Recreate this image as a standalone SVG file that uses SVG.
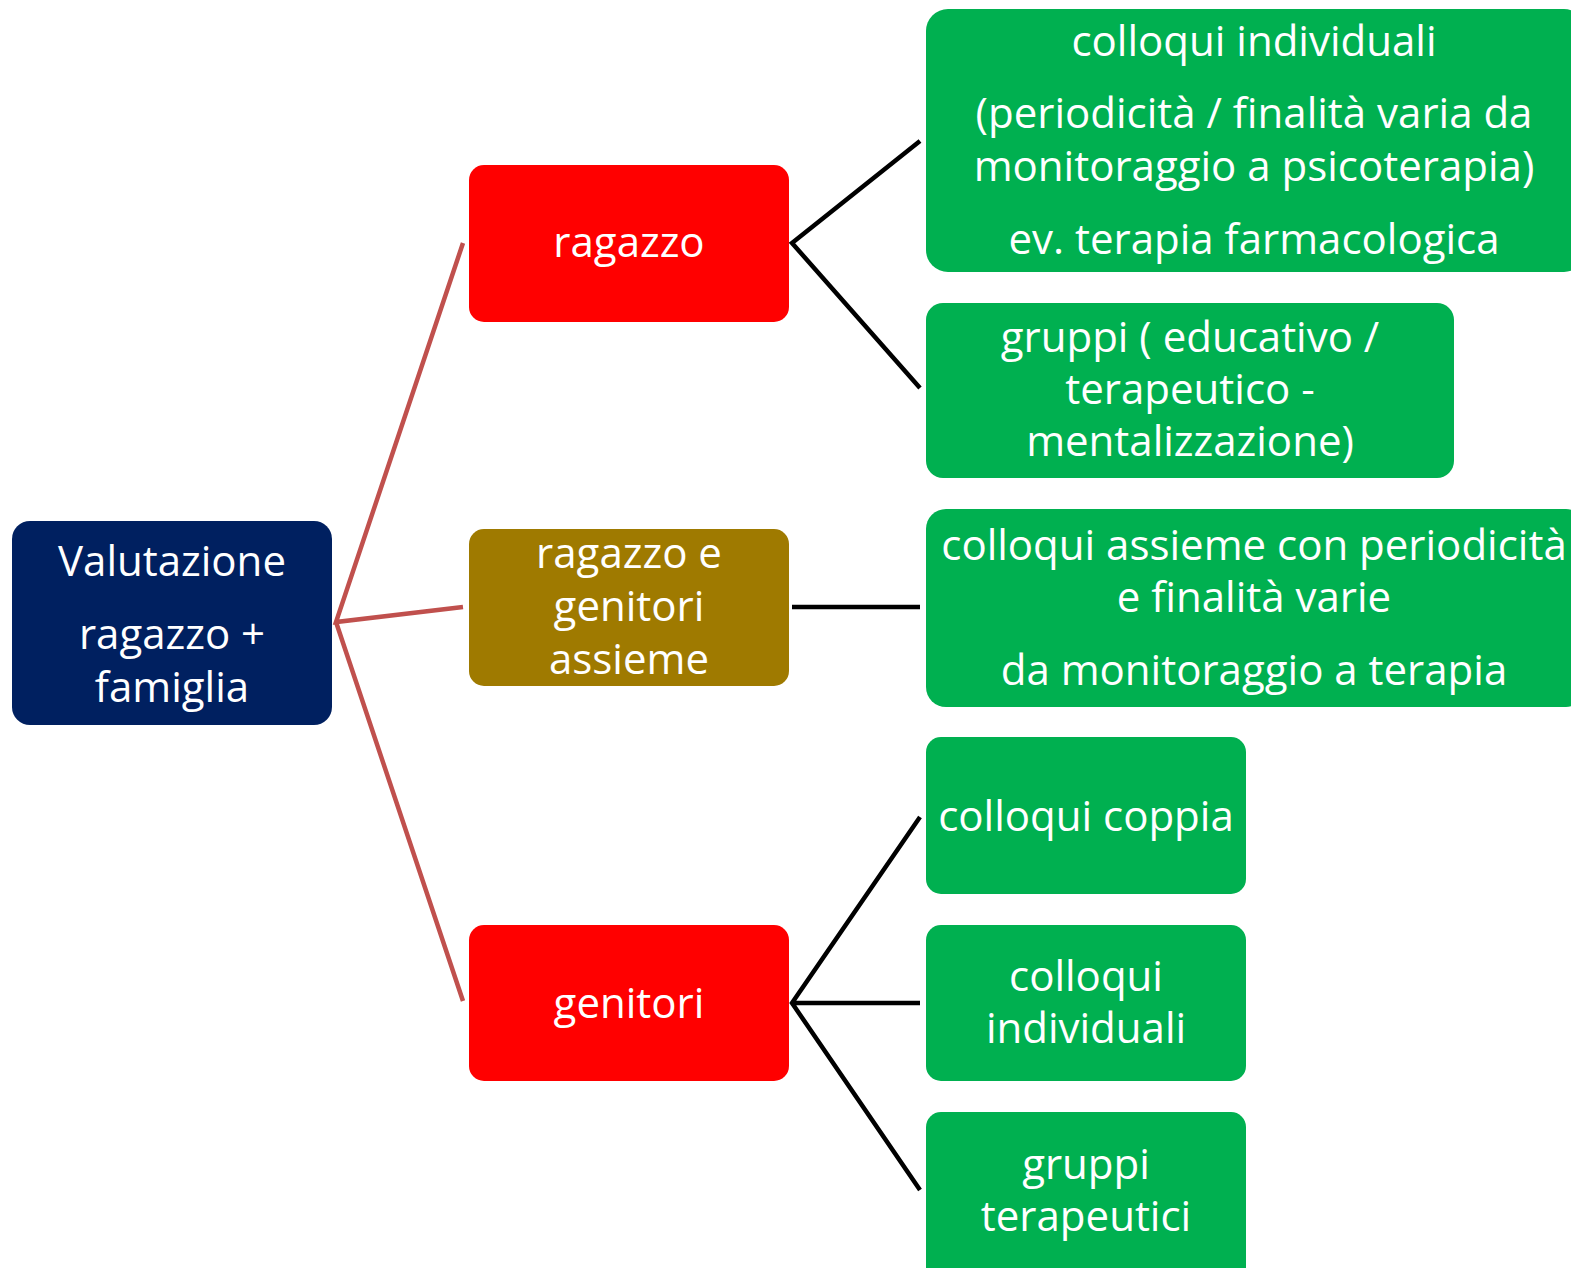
<svg xmlns="http://www.w3.org/2000/svg" width="1571" height="1268" viewBox="0 0 1571 1268">
<style>
text{font-family:"Open Sans","Noto Sans","DejaVu Sans",sans-serif;font-size:42px;fill:#ffffff;text-anchor:middle}
.navy{fill:#002060}
.red{fill:#ff0000}
.olive{fill:#9f7a00}
.green{fill:#00b050}
.lr{stroke:#c0504d;stroke-width:4.5;fill:none}
.lb{stroke:#000000;stroke-width:4.5;fill:none}
</style>
<rect width="1571" height="1268" fill="#ffffff"/>
<g id="connectors">
<path class="lr" d="M463,243 L336,622 L463,607 M336,622 L463,1001"/>
<path class="lb" d="M920,141 L792,243 L920,388"/>
<path class="lb" d="M792,607 L920,607"/>
<path class="lb" d="M920,817 L792,1003 L920,1190 M792,1003 L920,1003"/>
</g>
<g id="valutazione">
<rect class="navy" x="12" y="521" width="320" height="204" rx="18"/>
<text x="172" y="576">Valutazione</text>
<text x="172" y="649">ragazzo +</text>
<text x="172" y="702">famiglia</text>
</g>
<g id="ragazzo">
<rect class="red" x="469" y="165" width="320" height="157" rx="15"/>
<text x="629" y="257">ragazzo</text>
</g>
<g id="ragazzo-genitori">
<rect class="olive" x="469" y="529" width="320" height="157" rx="15"/>
<text x="629" y="568">ragazzo e</text>
<text x="629" y="621">genitori</text>
<text x="629" y="674">assieme</text>
</g>
<g id="genitori">
<rect class="red" x="469" y="925" width="320" height="156" rx="15"/>
<text x="629" y="1018">genitori</text>
</g>
<g id="colloqui-individuali-ragazzo">
<rect class="green" x="926" y="9" width="660" height="263" rx="22"/>
<text x="1254" y="56">colloqui individuali</text>
<text x="1254" y="128">(periodicità / finalità varia da</text>
<text x="1254" y="181">monitoraggio a psicoterapia)</text>
<text x="1254" y="254">ev. terapia farmacologica</text>
</g>
<g id="gruppi-ragazzo">
<rect class="green" x="926" y="303" width="528" height="175" rx="17"/>
<text x="1190" y="352">gruppi ( educativo /</text>
<text x="1190" y="404">terapeutico -</text>
<text x="1190" y="456">mentalizzazione)</text>
</g>
<g id="colloqui-assieme">
<rect class="green" x="926" y="509" width="660" height="198" rx="20"/>
<text x="1254" y="560">colloqui assieme con periodicità</text>
<text x="1254" y="612">e finalità varie</text>
<text x="1254" y="685">da monitoraggio a terapia</text>
</g>
<g id="colloqui-coppia">
<rect class="green" x="926" y="737" width="320" height="157" rx="15"/>
<text x="1086" y="831">colloqui coppia</text>
</g>
<g id="colloqui-individuali-genitori">
<rect class="green" x="926" y="925" width="320" height="156" rx="15"/>
<text x="1086" y="991">colloqui</text>
<text x="1086" y="1043">individuali</text>
</g>
<g id="gruppi-terapeutici">
<rect class="green" x="926" y="1112" width="320" height="170" rx="15"/>
<text x="1086" y="1179">gruppi</text>
<text x="1086" y="1231">terapeutici</text>
</g>
</svg>
